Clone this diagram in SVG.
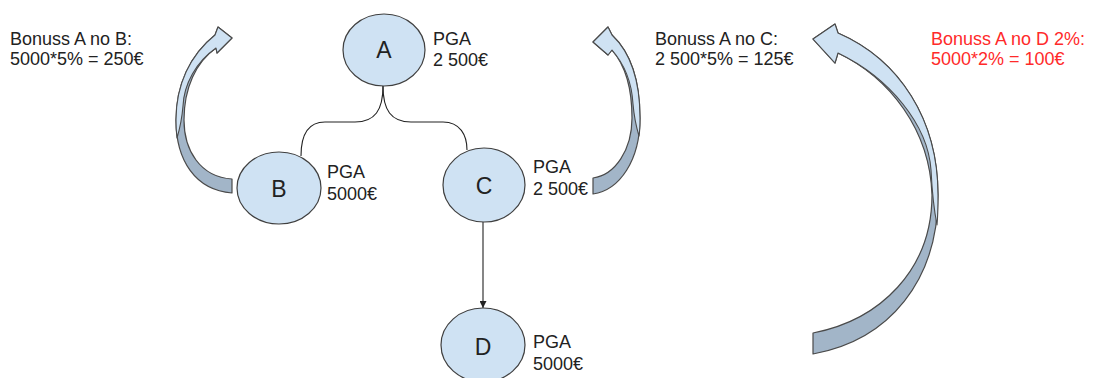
<svg xmlns="http://www.w3.org/2000/svg" width="1095" height="378" viewBox="0 0 1095 378">
<defs>
<style>
.node{fill:#cfe2f3;stroke:#3f3f3f;stroke-width:1.2}
.lt{fill:#cfe2f3;stroke:#4a4a4a;stroke-width:1.1;stroke-linejoin:round}
.dk{fill:#a2b5c8;stroke:#4a4a4a;stroke-width:1.2;stroke-linejoin:round}
.t{font-family:"Liberation Sans",Arial,sans-serif;font-size:18px;fill:#222}
.red{fill:#ff2a2a}
.ltr{font-family:"Liberation Sans",Arial,sans-serif;font-size:23px;fill:#222;text-anchor:middle}
.con{fill:none;stroke:#222;stroke-width:1.1}
</style>
<marker id="ah" viewBox="0 0 10 10" refX="10" refY="5" markerWidth="7" markerHeight="7" orient="auto" markerUnits="userSpaceOnUse">
<path d="M0,0 L10,5 L0,10 Z" fill="#222"/>
</marker>
</defs>
<rect width="1095" height="378" fill="#fff"/>

<g id="arrows">
<g id="arrowB">
<path class="dk" d="M232,193 C195,190 176,160 176,120 C176,85 190,55 215,35 L218,27 L232,38 L217,53 L216,48 C196,62 184,88 184,120 C184,150 200,177 232,179 Z"/>
<path class="lt" d="M177,138 C176,130 176,125 176,120 C176,85 190,55 215,35 L218,27 L232,38 L217,53 L216,48 C196,62 184,84 183,106 C182,118 180,128 177,138 Z"/>
</g>
<g id="arrowC">
<path class="dk" d="M593,194 C620,190 640,160 640,118 C640,80 630,52 612,35 L608,27 L593,42 L608,55 L612,50 C626,66 632,90 632,118 C632,150 615,175 593,178 Z"/>
<path class="lt" d="M639,136 C640,130 640,124 640,118 C640,80 630,52 612,35 L608,27 L593,42 L608,55 L612,50 C626,66 632,86 633,104 C634,116 636,126 639,136 Z"/>
</g>
<g id="arrowD">
<path class="dk" d="M813,354 C890,340 938,280 938,195 C938,120 900,60 838,33 L835,24 L813,39 L835,63 L838,53 C890,78 930,130 932,195 C932,270 880,320 813,333 Z"/>
<path class="lt" d="M937,225 C938,215 938,205 938,195 C938,120 900,60 838,33 L835,24 L813,39 L835,63 L838,53 C890,78 928,125 931,170 C932,190 934,210 937,225 Z"/>
</g>
</g>

<g id="connectors">
<path class="con" d="M383,86 C383,110 375,122 355,122 L325,122 C308,122 301,135 301,156"/>
<path class="con" d="M383,86 C383,110 391,122 411,122 L443,122 C460,122 467,135 467,150"/>
<line class="con" x1="483" y1="222" x2="483" y2="308" marker-end="url(#ah)"/>
</g>

<g id="nodeA">
<ellipse class="node" cx="384" cy="50" rx="41" ry="36"/>
<text class="ltr" x="384" y="58">A</text>
<text class="t" x="433" y="45">PGA</text>
<text class="t" x="433" y="66">2 500€</text>
</g>
<g id="nodeB">
<ellipse class="node" cx="279" cy="188" rx="42" ry="36"/>
<text class="ltr" x="279" y="197">B</text>
<text class="t" x="327" y="178">PGA</text>
<text class="t" x="327" y="200">5000€</text>
</g>
<g id="nodeC">
<ellipse class="node" cx="484" cy="185" rx="41" ry="37"/>
<text class="ltr" x="484" y="194">C</text>
<text class="t" x="533" y="173">PGA</text>
<text class="t" x="533" y="195">2 500€</text>
</g>
<g id="nodeD">
<ellipse class="node" cx="483" cy="345" rx="42" ry="37"/>
<text class="ltr" x="483" y="355">D</text>
<text class="t" x="533" y="348">PGA</text>
<text class="t" x="533" y="370">5000€</text>
</g>

<g id="labelB">
<text class="t" x="10" y="45">Bonuss A no B:</text>
<text class="t" x="10" y="65">5000*5% = 250€</text>
</g>
<g id="labelC">
<text class="t" x="655" y="45">Bonuss A no C:</text>
<text class="t" x="655" y="65">2 500*5% = 125€</text>
</g>
<g id="labelD">
<text class="t red" x="931" y="45">Bonuss A no D 2%:</text>
<text class="t red" x="931" y="65">5000*2% = 100€</text>
</g>
</svg>
